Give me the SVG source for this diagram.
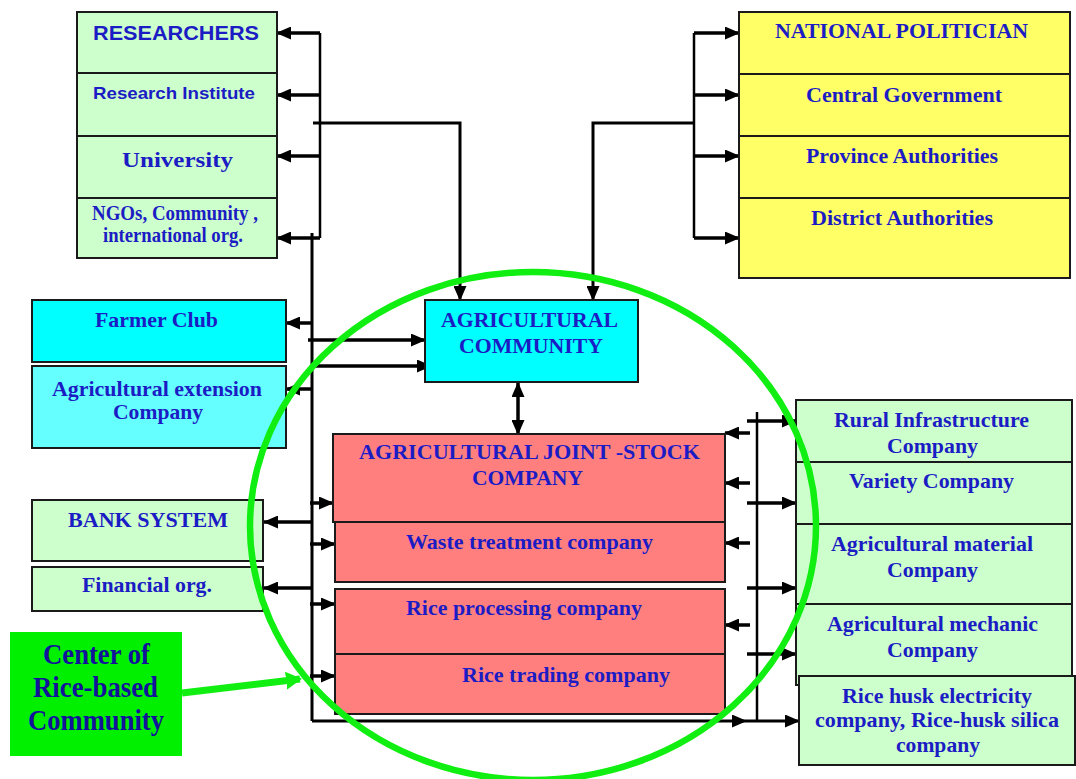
<svg xmlns="http://www.w3.org/2000/svg" width="1076" height="779" viewBox="0 0 1076 779">
  <defs>
    <style>
      .box { stroke: #1a1a1a; stroke-width: 2; }
      .lg { fill: #ccffcc; }
      .yl { fill: #ffff66; }
      .cy { fill: #00ffff; }
      .cy2 { fill: #66ffff; }
      .rd { fill: #ff7f7f; }
      .t { font-family: "Liberation Serif", "Times New Roman", serif; font-weight: bold; font-size: 21px; fill: #1c1cc4; }
      .s { font-family: "Liberation Sans", Arial, sans-serif; font-weight: bold; fill: #1c1cc4; }
      .c { fill: #12129a; font-size: 29px; }
      .bus { fill: none; stroke: #000; stroke-width: 2.5; }
      .arr { fill: none; stroke: #000; stroke-width: 3.5; marker-end: url(#ah); }
      .dbl { fill: none; stroke: #000; stroke-width: 3.5; marker-end: url(#ah); marker-start: url(#ah); }
    </style>
    <marker id="ah" viewBox="0 0 15 13" markerUnits="userSpaceOnUse" markerWidth="15" markerHeight="13" refX="14" refY="6.5" orient="auto-start-reverse">
      <path d="M0,0 L15,6.5 L0,13 z" fill="#000"/>
    </marker>
    <marker id="gh" viewBox="0 0 16 18" markerUnits="userSpaceOnUse" markerWidth="16" markerHeight="18" refX="14" refY="9" orient="auto">
      <path d="M0,0 L16,9 L0,18 z" fill="#11ee11"/>
    </marker>
  </defs>

  <rect width="1076" height="779" fill="#ffffff"/>

  <!-- connectors -->
  <g id="connectors">
    <!-- research bus -->
    <path class="bus" d="M320,33 V238"/>
    <path class="arr" d="M320,33 H277"/>
    <path class="arr" d="M320,95 H277"/>
    <path class="arr" d="M320,156 H277"/>
    <path class="arr" d="M320,238 H277"/>
    <path class="arr" d="M313,123 H460 V300" style="stroke-width:3"/>
    <!-- politician bus -->
    <path class="bus" d="M694,33 V238"/>
    <path class="arr" d="M694,33 H739"/>
    <path class="arr" d="M694,95 H739"/>
    <path class="arr" d="M694,156 H739"/>
    <path class="arr" d="M694,238 H739"/>
    <path class="arr" d="M694,123 H593 V300" style="stroke-width:3"/>
    <!-- left main bus -->
    <path class="bus" d="M312,233 V721" style="stroke-width:3"/>
    <path class="arr" d="M312,323 H286"/>
    <path class="arr" d="M308,340 H425"/>
    <path class="arr" d="M312,366 H431"/>
    <path class="arr" d="M312,389 H286"/>
    <path class="arr" d="M312,522 H264"/>
    <path class="arr" d="M312,588 H264"/>
    <path class="arr" d="M310,503 H333"/>
    <path class="arr" d="M310,544 H335"/>
    <path class="arr" d="M310,604 H335"/>
    <path class="arr" d="M310,676 H335"/>
    <path class="arr" d="M312,721 H746" style="stroke-width:3"/>
    <path class="arr" d="M746,721 H799" style="stroke-width:3"/>
    <!-- community to joint-stock -->
    <path class="dbl" d="M518,383 V434"/>
    <!-- right bus -->
    <path class="bus" d="M757,412 V721"/>
    <path class="arr" d="M747,421 H796"/>
    <path class="arr" d="M747,503 H796"/>
    <path class="arr" d="M747,588 H796"/>
    <path class="arr" d="M747,654 H796"/>
    <path class="arr" d="M750,433 H725"/>
    <path class="arr" d="M750,483 H725"/>
    <path class="arr" d="M750,543 H725"/>
    <path class="arr" d="M750,625 H725"/>
  </g>

  <!-- researchers stack -->
  <g id="researchers">
    <rect class="box lg" x="77" y="12" width="200" height="61"/>
    <text class="s" x="93" y="40" font-size="21" textLength="166" lengthAdjust="spacingAndGlyphs">RESEARCHERS</text>
  </g>
  <g id="research-institute">
    <rect class="box lg" x="77" y="73" width="200" height="63"/>
    <text class="s" x="93" y="99" font-size="17" textLength="162" lengthAdjust="spacingAndGlyphs">Research  Institute</text>
  </g>
  <g id="university">
    <rect class="box lg" x="77" y="136" width="200" height="62"/>
    <text class="t" x="122" y="167" font-size="26" textLength="111" lengthAdjust="spacingAndGlyphs">University</text>
  </g>
  <g id="ngos">
    <rect class="box lg" x="77" y="198" width="200" height="60"/>
    <text class="t" x="92" y="220" font-size="17" textLength="166" lengthAdjust="spacingAndGlyphs">NGOs, Community  ,</text>
    <text class="t" x="103" y="242" font-size="17" textLength="140" lengthAdjust="spacingAndGlyphs">international org.</text>
  </g>

  <!-- politician stack -->
  <g id="national-politician">
    <rect class="box yl" x="739" y="12" width="331" height="62"/>
    <text class="t" x="775" y="38" textLength="253" lengthAdjust="spacingAndGlyphs">NATIONAL POLITICIAN</text>
  </g>
  <g id="central-government">
    <rect class="box yl" x="739" y="74" width="331" height="62"/>
    <text class="t" x="806" y="102" textLength="196" lengthAdjust="spacingAndGlyphs">Central Government</text>
  </g>
  <g id="province-authorities">
    <rect class="box yl" x="739" y="136" width="331" height="62"/>
    <text class="t" x="806" y="163" textLength="192" lengthAdjust="spacingAndGlyphs">Province Authorities</text>
  </g>
  <g id="district-authorities">
    <rect class="box yl" x="739" y="198" width="331" height="80"/>
    <text class="t" x="811" y="225" textLength="182" lengthAdjust="spacingAndGlyphs">District Authorities</text>
  </g>

  <!-- farmer side -->
  <g id="farmer-club">
    <rect class="box cy" x="32" y="300" width="254" height="62"/>
    <text class="t" x="95" y="327" textLength="123" lengthAdjust="spacingAndGlyphs">Farmer Club</text>
  </g>
  <g id="extension-company">
    <rect class="box cy2" x="32" y="366" width="254" height="82"/>
    <text class="t" x="52" y="396" textLength="210" lengthAdjust="spacingAndGlyphs">Agricultural extension</text>
    <text class="t" x="113" y="419" textLength="90" lengthAdjust="spacingAndGlyphs">Company</text>
  </g>

  <!-- finance side -->
  <g id="bank-system">
    <rect class="box lg" x="32" y="500" width="231" height="61"/>
    <text class="t" x="68" y="527" textLength="160" lengthAdjust="spacingAndGlyphs">BANK SYSTEM</text>
  </g>
  <g id="financial-org">
    <rect class="box lg" x="32" y="567" width="231" height="44"/>
    <text class="t" x="82" y="592" textLength="130" lengthAdjust="spacingAndGlyphs">Financial org.</text>
  </g>

  <!-- community -->
  <g id="agricultural-community">
    <rect class="box cy" x="425" y="300" width="213" height="82"/>
    <text class="t" x="441" y="327" textLength="177" lengthAdjust="spacingAndGlyphs">AGRICULTURAL</text>
    <text class="t" x="459" y="353" textLength="144" lengthAdjust="spacingAndGlyphs">COMMUNITY</text>
  </g>

  <!-- joint-stock group -->
  <g id="joint-stock-company">
    <rect class="box rd" x="333" y="434" width="392" height="88"/>
    <text class="t" x="359" y="459" textLength="341" lengthAdjust="spacingAndGlyphs">AGRICULTURAL JOINT -STOCK</text>
    <text class="t" x="472" y="485" textLength="111" lengthAdjust="spacingAndGlyphs">COMPANY</text>
  </g>
  <g id="waste-treatment">
    <rect class="box rd" x="335" y="522" width="390" height="60"/>
    <text class="t" x="406" y="549" textLength="247" lengthAdjust="spacingAndGlyphs">Waste treatment company</text>
  </g>
  <g id="rice-processing">
    <rect class="box rd" x="335" y="589" width="390" height="65"/>
    <text class="t" x="406" y="615" textLength="236" lengthAdjust="spacingAndGlyphs">Rice processing company</text>
  </g>
  <g id="rice-trading">
    <rect class="box rd" x="335" y="654" width="390" height="60"/>
    <text class="t" x="462" y="682" textLength="208" lengthAdjust="spacingAndGlyphs">Rice trading company</text>
  </g>

  <!-- supporting companies -->
  <g id="rural-infrastructure">
    <rect class="box lg" x="796" y="400" width="276" height="62"/>
    <text class="t" x="834" y="427" textLength="195" lengthAdjust="spacingAndGlyphs">Rural Infrastructure</text>
    <text class="t" x="887" y="453" textLength="91" lengthAdjust="spacingAndGlyphs">Company</text>
  </g>
  <g id="variety-company">
    <rect class="box lg" x="796" y="462" width="276" height="62"/>
    <text class="t" x="849" y="488" textLength="165" lengthAdjust="spacingAndGlyphs">Variety Company</text>
  </g>
  <g id="material-company">
    <rect class="box lg" x="796" y="524" width="276" height="80"/>
    <text class="t" x="831" y="551" textLength="202" lengthAdjust="spacingAndGlyphs">Agricultural material</text>
    <text class="t" x="887" y="577" textLength="91" lengthAdjust="spacingAndGlyphs">Company</text>
  </g>
  <g id="mechanic-company">
    <rect class="box lg" x="796" y="604" width="276" height="81"/>
    <text class="t" x="827" y="631" textLength="211" lengthAdjust="spacingAndGlyphs">Agricultural mechanic</text>
    <text class="t" x="887" y="657" textLength="91" lengthAdjust="spacingAndGlyphs">Company</text>
  </g>
  <g id="rice-husk-company">
    <rect class="box lg" x="799" y="676" width="276" height="89"/>
    <text class="t" x="842" y="703" textLength="190" lengthAdjust="spacingAndGlyphs">Rice husk electricity</text>
    <text class="t" x="815" y="727" textLength="244" lengthAdjust="spacingAndGlyphs">company, Rice-husk silica</text>
    <text class="t" x="896" y="752" textLength="84" lengthAdjust="spacingAndGlyphs">company</text>
  </g>

  <!-- community centre ring -->
  <g id="center-ring">
    <ellipse cx="533" cy="526" rx="283" ry="254" fill="none" stroke="#11ee11" stroke-width="6.5"/>
  </g>

  <!-- callout -->
  <g id="center-callout">
    <rect x="10" y="632" width="172" height="124" fill="#00f000"/>
    <text class="t c" x="43" y="664" textLength="107" lengthAdjust="spacingAndGlyphs">Center of</text>
    <text class="t c" x="33" y="697" textLength="125" lengthAdjust="spacingAndGlyphs">Rice-based</text>
    <text class="t c" x="28" y="730" textLength="136" lengthAdjust="spacingAndGlyphs">Community</text>
    <path d="M182,693 L300,679" fill="none" stroke="#11ee11" stroke-width="7" marker-end="url(#gh)"/>
  </g>
</svg>
